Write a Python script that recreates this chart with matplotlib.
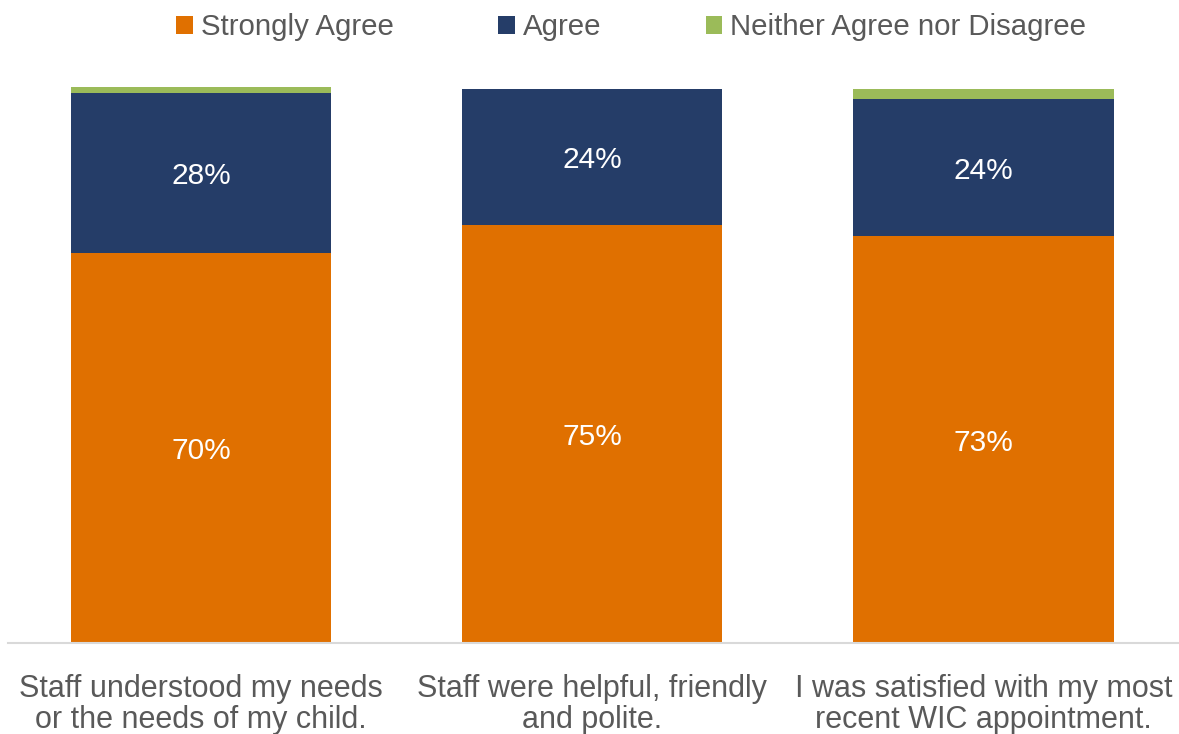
import matplotlib
matplotlib.use("Agg")
import matplotlib.pyplot as plt
import numpy as np
import math

categories = ["Staff understood my needs\nor the needs of my child.",
              "Staff were helpful, friendly\nand polite.",
              "I was satisfied with my most\nrecent WIC appointment."]
series_names = ["Strongly Agree", "Agree", "Neither Agree nor Disagree"]
strongly_agree = [70.1, 75.0, 73.1]
agree = [28.6, 24.5, 24.5]
neither = [1.2, 0.0, 1.8]
colors = ["#E07000", "#253D68", "#9BBB59"]

FONT = ["Liberation Sans", "DejaVu Sans"]
plt.rcParams['font.family'] = FONT

fig = plt.figure(figsize=(11.79, 7.34), dpi=100)
ax = fig.add_axes([8/1179, 1-643/734, (1181-8)/1179, (643-86)/734])

x = np.arange(len(categories))
w = 0.665
bottoms = np.zeros(len(categories))
for name, vals, c in zip(series_names, [strongly_agree, agree, neither], colors):
    vals = np.array(vals)
    ax.bar(x, vals, w, bottom=bottoms, color=c, label=name, edgecolor='none')
    if name != "Neither Agree nor Disagree":
        for xi, b, v in zip(x, bottoms, vals):
            ax.text(xi, b + v/2 - 0.6, f"{math.floor(v)}%", ha='center', va='center',
                    color='white', fontsize=21.5)
    bottoms += vals

ax.set_xlim(-0.494, 2.505)
ax.set_ylim(0, 100)
ax.set_yticks([])
ax.set_xticks(x)
ax.set_xticklabels(categories, fontsize=22, color='#595959', linespacing=1.05)
ax.tick_params(axis='x', length=0, pad=22)
for s in ['top', 'right', 'left']:
    ax.spines[s].set_visible(False)
ax.spines['bottom'].set_color('#D9D9D9')
ax.spines['bottom'].set_linewidth(1.5)

fig.legend(loc='upper center', bbox_to_anchor=(0.5355, 1.018), ncol=3, frameon=False,
           fontsize=21.2, handlelength=0.55, handleheight=0.55, handletextpad=0.28,
           columnspacing=3.55, labelcolor='#595959')

fig.savefig("out.png", dpi=100)
